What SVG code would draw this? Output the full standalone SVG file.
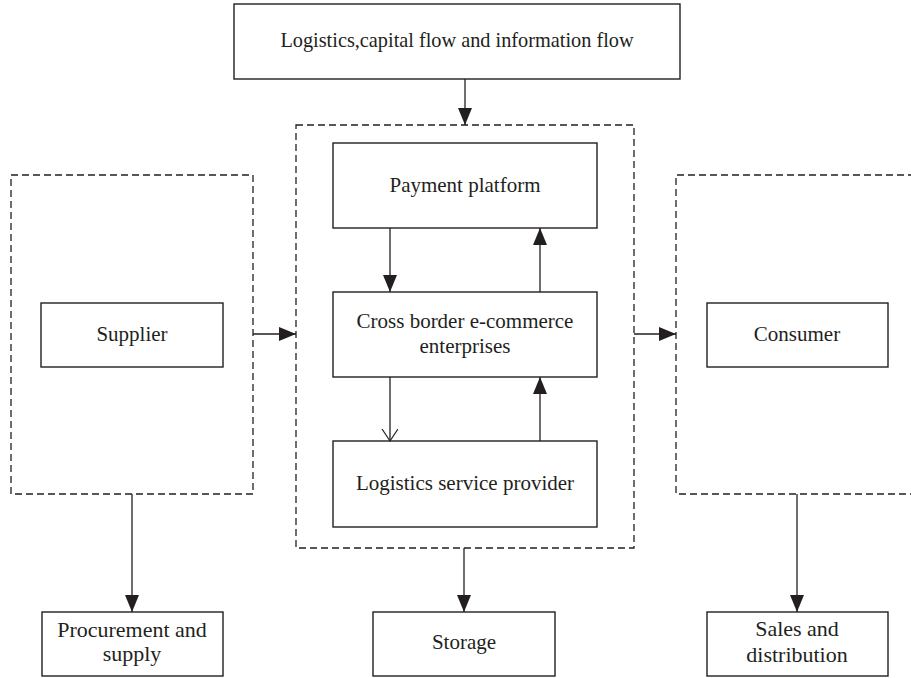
<svg xmlns="http://www.w3.org/2000/svg" width="911" height="678" viewBox="0 0 911 678">
<style>
.box{fill:#fff;stroke:#231f20;stroke-width:1.4}
.dash{fill:none;stroke:#231f20;stroke-width:1.3;stroke-dasharray:7 4}
.c{fill:none;stroke:#231f20;stroke-width:1.3}
.t{font-family:"Liberation Serif","Times New Roman",serif;font-size:21px;fill:#231f20;text-anchor:middle}
.b{font-size:22px}
</style>
<defs>
<marker id="ah" markerUnits="userSpaceOnUse" markerWidth="18" markerHeight="14" refX="17" refY="7" orient="auto">
<path d="M0,0 L17,7 L0,14 Z" fill="#231f20"/>
</marker>
<marker id="oh" markerUnits="userSpaceOnUse" markerWidth="14" markerHeight="18" refX="12" refY="8" orient="auto">
<path d="M0,0 L12,8 L0,16" fill="none" stroke="#231f20" stroke-width="1.2"/>
</marker>
</defs>
<rect width="911" height="678" fill="#fff"/>
<g id="group-left"><rect class="dash" x="11" y="175" width="242" height="319"/></g>
<g id="group-center"><rect class="dash" x="296" y="125" width="338" height="423"/></g>
<g id="group-right"><path class="dash" d="M915,175 H676 V494 H915"/></g>
<g id="flows"><rect class="box" x="234" y="4" width="446" height="75"/><text class="t" x="457" y="47" style="font-size:20.3px">Logistics,capital flow and information flow</text></g>
<g id="payment"><rect class="box" x="333" y="143" width="264" height="85"/><text class="t" x="465" y="192">Payment platform</text></g>
<g id="cbec"><rect class="box" x="333" y="292" width="264" height="85"/><text class="t" x="465" y="328">Cross border e-commerce</text><text class="t" x="465" y="353">enterprises</text></g>
<g id="lsp"><rect class="box" x="333" y="441" width="264" height="86"/><text class="t" x="465" y="490">Logistics service provider</text></g>
<g id="supplier"><rect class="box" x="41" y="303" width="182" height="64"/><text class="t" x="132" y="341">Supplier</text></g>
<g id="consumer"><rect class="box" x="707" y="303" width="181" height="64"/><text class="t" x="797" y="341">Consumer</text></g>
<g id="procurement"><rect class="box" x="42" y="612" width="181" height="64"/><text class="t b" x="132" y="637">Procurement and</text><text class="t b" x="132" y="661">supply</text></g>
<g id="storage"><rect class="box" x="373" y="612" width="182" height="64"/><text class="t" x="464" y="649">Storage</text></g>
<g id="sales"><rect class="box" x="707" y="612" width="181" height="64"/><text class="t b" x="797" y="636">Sales and</text><text class="t b" x="797" y="662">distribution</text></g>
<g id="connectors">
<path class="c" d="M465,79 V125" marker-end="url(#ah)"/>
<path class="c" d="M390,228 V292" marker-end="url(#ah)"/>
<path class="c" d="M540,292 V228" marker-end="url(#ah)"/>
<path class="c" d="M390,377 V441" marker-end="url(#oh)"/>
<path class="c" d="M540,441 V377" marker-end="url(#ah)"/>
<path class="c" d="M253,334 H296" marker-end="url(#ah)"/>
<path class="c" d="M634,334 H676" marker-end="url(#ah)"/>
<path class="c" d="M132,494 V612" marker-end="url(#ah)"/>
<path class="c" d="M464,548 V612" marker-end="url(#ah)"/>
<path class="c" d="M797,494 V612" marker-end="url(#ah)"/>
</g>
</svg>
